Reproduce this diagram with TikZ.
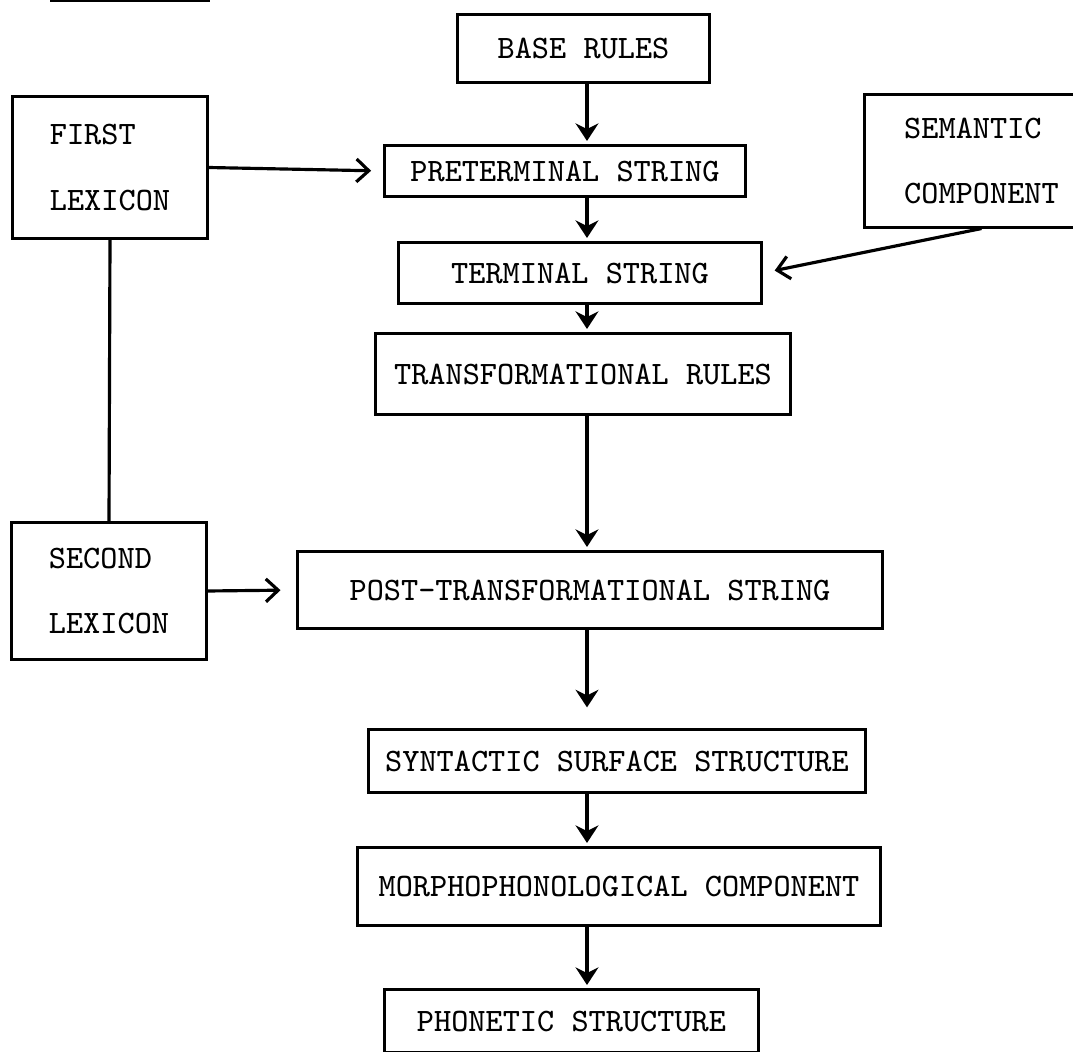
\documentclass[tikz,border=0pt]{standalone}
\usetikzlibrary{arrows.meta}
\begin{document}
\begin{tikzpicture}[x=0.01cm, y=-0.01cm,
    box/.style={draw, line width=0.85pt, inner sep=0pt, align=center,
        font=\ttfamily\fontsize{9.3}{18.5}\selectfont},
    lato/.style={box, align=left},
    freccia/.style={line width=1.4pt, -{Stealth[length=5pt, width=6.5pt]}, shorten >=1pt},
    laterale/.style={line width=0.9pt, -{Straight Barb[length=3.5pt, width=6.5pt]}}]
    % Cornice
    \path[use as bounding box] (0,0) rectangle (1073,1052);
    \clip (0,0) rectangle (1073,1052);
    \draw[line width=1.2pt] (50,0) -- (210,0);

    % Riquadri centrali
    \node[box, minimum width=2.51cm, minimum height=0.67cm] (base) at (583.5,48.5) {BASE RULES};
    \node[box, minimum width=3.60cm, minimum height=0.50cm] (pre) at (565,171) {PRETERMINAL STRING};
    \node[box, minimum width=3.62cm, minimum height=0.60cm] (ter) at (580,273) {TERMINAL STRING};
    \node[box, minimum width=4.14cm, minimum height=0.80cm] (tra) at (583,374) {TRANSFORMATIONAL RULES};
    \node[box, minimum width=5.84cm, minimum height=0.76cm] (post) at (590,590) {POST-TRANSFORMATIONAL STRING};
    \node[box, minimum width=4.96cm, minimum height=0.62cm] (synt) at (617,761) {SYNTACTIC SURFACE STRUCTURE};
    \node[box, minimum width=5.22cm, minimum height=0.77cm] (mor) at (619,886.5) {MORPHOPHONOLOGICAL COMPONENT};
    \node[box, minimum width=3.73cm, minimum height=0.62cm] (pho) at (571.5,1021) {PHONETIC STRUCTURE};

    % Riquadri laterali
    \node[lato, minimum width=1.94cm, minimum height=1.41cm] (first) at (110,167.5) {FIRST\\LEXICON};
    \node[lato, minimum width=1.94cm, minimum height=1.37cm] (second) at (109,591) {SECOND\\LEXICON};
    \node[lato, minimum width=2.33cm, minimum height=1.32cm] (sem) at (981.5,161) {SEMANTIC\\COMPONENT};

    % Frecce verticali
    \coordinate (colonna) at (587,0);
    \draw[freccia] (base.south -| colonna) -- (pre.north -| colonna);
    \draw[freccia] (pre.south -| colonna) -- (ter.north -| colonna);
    \draw[freccia] (ter.south -| colonna) -- (tra.north -| colonna);
    \draw[freccia] (tra.south -| colonna) -- (post.north -| colonna);
    \draw[freccia, shorten >=6pt] (post.south -| colonna) -- (synt.north -| colonna);
    \draw[freccia] (synt.south -| colonna) -- (mor.north -| colonna);
    \draw[freccia] (mor.south -| colonna) -- (pho.north -| colonna);

    % Collegamenti laterali
    \draw[laterale, shorten >=3.5pt] (first.east) -- (pre.west);
    \draw[laterale, shorten >=3.5pt] (sem.south) -- (ter.east);
    \draw[laterale, shorten >=4.5pt] (second.east) -- (post.west);
    \draw[line width=0.9pt] (first.south) -- (second.north);
\end{tikzpicture}
\end{document}
